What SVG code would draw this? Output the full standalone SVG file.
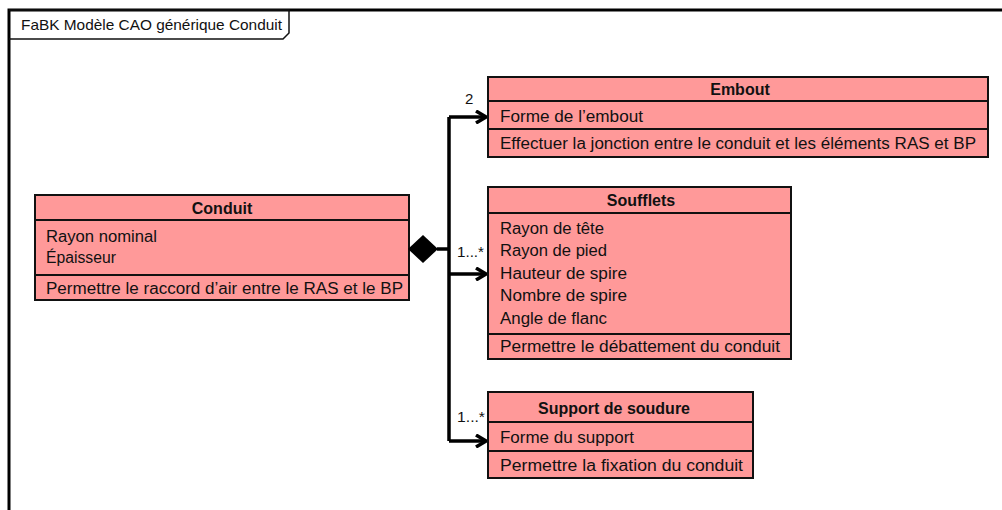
<svg xmlns="http://www.w3.org/2000/svg" width="1002" height="510" viewBox="0 0 1002 510">
<style>
text{font-family:"Liberation Sans",Arial,sans-serif;font-size:16px;fill:#111}
.b{font-weight:bold;text-anchor:middle}
.lbl{font-size:15px}
.box{fill:#ff9999;stroke:#111;stroke-width:2}
.sep{stroke:#111;stroke-width:2}
.conn{fill:none;stroke:#000;stroke-width:3.5;stroke-linejoin:miter}
</style>
<defs>
<marker id="arr" viewBox="0 0 12 14" refX="11" refY="7" markerWidth="12" markerHeight="14" markerUnits="userSpaceOnUse" orient="auto">
<path d="M1,1 L11,7 L1,13" fill="none" stroke="#000" stroke-width="3.5"/>
</marker>
</defs>
<rect width="1002" height="510" fill="#fff"/>
<g id="frame">
<path d="M9,510 L9,10 L1002,10" fill="none" stroke="#000" stroke-width="3"/>
<path d="M9,10 L289,10 L289,33 L283,39 L9,39" fill="none" stroke="#111" stroke-width="1.5"/>
<text x="21" y="30" textLength="261" lengthAdjust="spacingAndGlyphs" class="lbl">FaBK Modèle CAO générique Conduit</text>
</g>
<g id="conduit">
<rect class="box" x="35" y="195" width="374" height="105"/>
<line class="sep" x1="35" y1="220" x2="409" y2="220"/>
<line class="sep" x1="35" y1="275" x2="409" y2="275"/>
<text class="b" x="222" y="214">Conduit</text>
<text x="46" y="242" textLength="111" lengthAdjust="spacingAndGlyphs">Rayon nominal</text>
<text x="46" y="263" textLength="70" lengthAdjust="spacingAndGlyphs">Épaisseur</text>
<text x="46" y="294" textLength="357" lengthAdjust="spacingAndGlyphs">Permettre le raccord d’air entre le RAS et le BP</text>
</g>
<g id="embout">
<rect class="box" x="488" y="77" width="500" height="80"/>
<line class="sep" x1="488" y1="101" x2="988" y2="101"/>
<line class="sep" x1="488" y1="129" x2="988" y2="129"/>
<text class="b" x="740" y="95">Embout</text>
<text x="500" y="122" textLength="143" lengthAdjust="spacingAndGlyphs">Forme de l’embout</text>
<text x="500" y="149" textLength="476" lengthAdjust="spacingAndGlyphs">Effectuer la jonction entre le conduit  et les éléments RAS et BP</text>
</g>
<g id="soufflets">
<rect class="box" x="488" y="187" width="303" height="172"/>
<line class="sep" x1="488" y1="213" x2="791" y2="213"/>
<line class="sep" x1="488" y1="334" x2="791" y2="334"/>
<text class="b" x="641" y="206">Soufflets</text>
<text x="500" y="234" textLength="104" lengthAdjust="spacingAndGlyphs">Rayon de tête</text>
<text x="500" y="256" textLength="107" lengthAdjust="spacingAndGlyphs">Rayon de pied</text>
<text x="500" y="279" textLength="127" lengthAdjust="spacingAndGlyphs">Hauteur de spire</text>
<text x="500" y="301" textLength="127" lengthAdjust="spacingAndGlyphs">Nombre de spire</text>
<text x="500" y="324" textLength="107" lengthAdjust="spacingAndGlyphs">Angle de flanc</text>
<text x="500" y="352" textLength="280" lengthAdjust="spacingAndGlyphs">Permettre le débattement du conduit</text>
</g>
<g id="support">
<rect class="box" x="488" y="392" width="265" height="86"/>
<line class="sep" x1="488" y1="422" x2="753" y2="422"/>
<line class="sep" x1="488" y1="451" x2="753" y2="451"/>
<text class="b" x="614" y="414">Support de soudure</text>
<text x="500" y="443" textLength="134" lengthAdjust="spacingAndGlyphs">Forme du support</text>
<text x="500" y="471" textLength="243" lengthAdjust="spacingAndGlyphs">Permettre la fixation du conduit</text>
</g>
<g id="connectors">
<polygon points="408,249 423,235 438,249 423,263" fill="#000"/>
<path class="conn" d="M437,249 L449,249"/>
<path class="conn" d="M449,117 L449,441"/>
<path class="conn" d="M449,117 L486,117" marker-end="url(#arr)"/>
<path class="conn" d="M449,274 L486,274" marker-end="url(#arr)"/>
<path class="conn" d="M449,441 L486,441" marker-end="url(#arr)"/>
<text class="lbl" x="465" y="104">2</text>
<text class="lbl" x="457" y="257" textLength="27" lengthAdjust="spacingAndGlyphs">1...*</text>
<text class="lbl" x="457" y="422" textLength="28" lengthAdjust="spacingAndGlyphs">1...*</text>
</g>
</svg>
